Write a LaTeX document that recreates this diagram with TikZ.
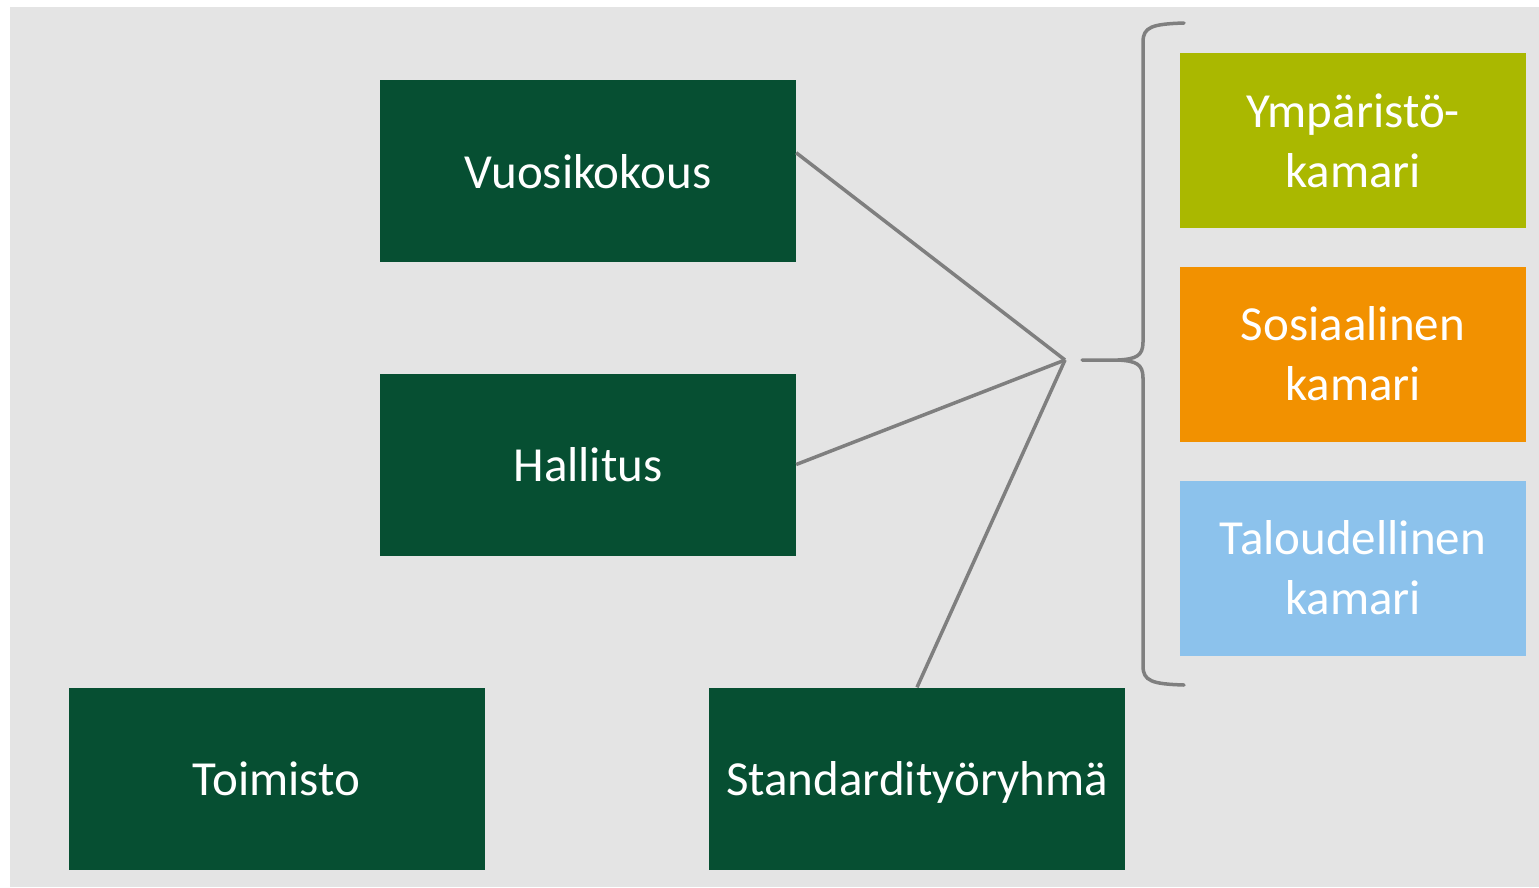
\documentclass[tikz,border=0pt]{standalone}
\usepackage{fontspec}
\setmainfont{Carlito}
\usetikzlibrary{calc}
\definecolor{dgreen}{HTML}{064F32}
\definecolor{olive}{HTML}{AAB800}
\definecolor{orng}{HTML}{F29100}
\definecolor{lblue}{HTML}{8CC2EC}
\definecolor{bg}{HTML}{E4E4E4}
\definecolor{lgray}{HTML}{7F7F7F}
\begin{document}
\begin{tikzpicture}[x=1pt,y=-1pt,
  box/.style={rectangle, inner sep=0pt, minimum width=416pt, minimum height=182pt, fill=dgreen, text=white, text height=34pt, text depth=0pt, font=\fontsize{49}{60}\selectfont},
  chamber/.style={rectangle, inner sep=0pt, minimum width=346pt, minimum height=175pt, text=white, align=center, font=\fontsize{49}{60}\selectfont},
  conn/.style={draw=lgray, line width=3.5pt},
  brace/.style={draw=lgray, line width=3.5pt, line cap=round}]
\useasboundingbox (0,0) rectangle (1539,887);
\fill[white] (0,0) rectangle (1539,887);
\fill[bg] (10,7) rectangle (1539,887);
\node[box] (v) at (588,171) {Vuosikokous};
\node[box] (h) at (588,464.5) {Hallitus};
\node[box] (t) at (276.5,778.5) {Toimisto};
\node[box] (s) at (917,778.5) {Standardityöryhmä};
\node[chamber, fill=olive] (y) at (1353,140.5) {Ympäristö-\\kamari};
\node[chamber, fill=orng] (so) at (1353,354) {Sosiaalinen\\kamari};
\node[chamber, fill=lblue] (ta) at (1353,568) {Taloudellinen\\kamari};
\coordinate (hub) at (1065,360);
\coordinate (tip) at (1082,360);
\draw[conn] ($(v.north east)!0.4!(v.south east)$) -- (hub);
\draw[conn] (h.east) -- (hub);
\draw[conn] (s.north) -- (hub);
\draw[brace] (1184,23) .. controls (1152,24) and (1143,27) .. (1143,42)
  -- (1143,342) .. controls (1143,356) and (1136,359) .. (1118,360) -- (tip);
\draw[brace] (1143,378) .. controls (1143,364) and (1136,361) .. (1118,360);
\draw[brace] (1143,378) -- (1143,666) .. controls (1143,681) and (1152,684) .. (1184,685);
\end{tikzpicture}
\end{document}
